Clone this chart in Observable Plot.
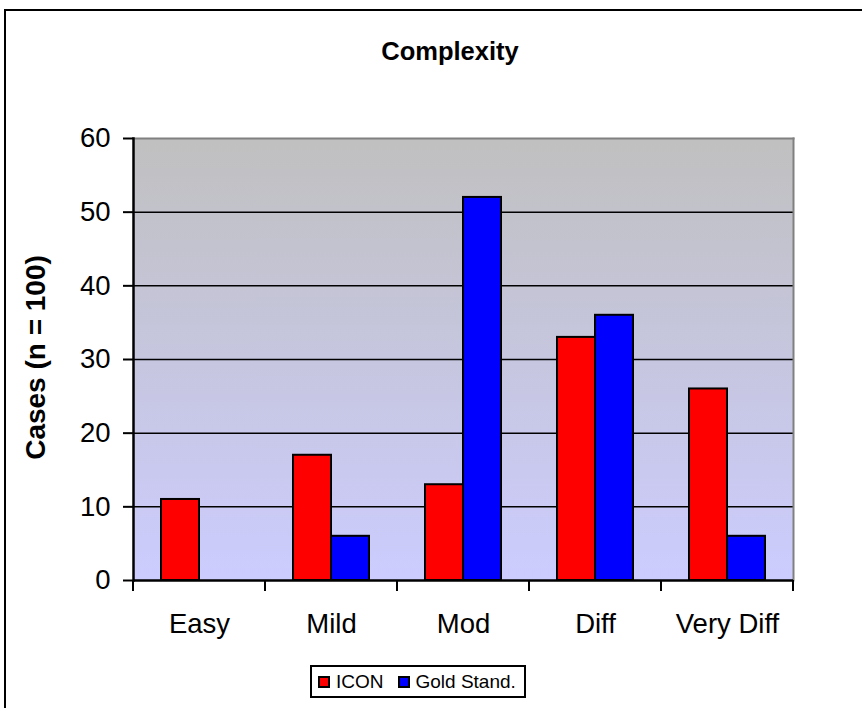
<!DOCTYPE html>
<html>
<head>
<meta charset="utf-8">
<script src="https://cdn.jsdelivr.net/npm/d3@7"></script>
<script src="https://cdn.jsdelivr.net/npm/@observablehq/plot@0.6"></script>
<style>
  html, body { margin: 0; padding: 0; background: #fff; }
  body { width: 862px; height: 708px; overflow: hidden; position: relative; font-family: "Liberation Sans", Arial, sans-serif; color: #000; }
  #border { position: absolute; left: 4px; top: 9px; width: 900px; height: 760px; border: 2px solid #000; box-sizing: border-box; pointer-events: none; }
  #title { box-sizing: border-box; width: 862px; height: 100px; padding-top: 36px; padding-left: 38px; text-align: center; font-size: 25.5px; line-height: 30px; font-weight: bold; }
  #chart svg { display: block; }
  #legend { position: absolute; left: 310px; top: 665px; height: 33px; box-sizing: border-box; border: 2px solid #000; display: flex; align-items: center; padding: 0 8px 0 6px; font-size: 19px; background: #fff; }
  .item { display: flex; align-items: center; margin-right: 14px; }
  .item:last-child { margin-right: 0; }
  .sw { width: 12px; height: 12px; box-sizing: border-box; border: 2px solid #000; margin-right: 6px; }
</style>
</head>
<body>
<div id="border"></div>
<div id="title"></div>
<div id="chart"></div>
<div id="legend"></div>
<script>
const titleText = "Complexity";
const yLabel = "Cases (n = 100)";
const categories = ["Easy", "Mild", "Mod", "Diff", "Very Diff"];
const seriesNames = ["ICON", "Gold Stand."];
const seriesColors = ["#FF0000", "#0000FF"];
const iconValues = [11, 17, 13, 33, 26];
const goldValues = [0, 6, 52, 36, 6];
const yTicks = [0, 10, 20, 30, 40, 50, 60];
const gridValues = [10, 20, 30, 40, 50];

const rows = [];
categories.forEach((c, i) => {
  rows.push({category: c, series: seriesNames[0], value: iconValues[i]});
  rows.push({category: c, series: seriesNames[1], value: goldValues[i]});
});

document.getElementById("title").textContent = titleText;

const font = "Liberation Sans, Arial, sans-serif";

const defsMark = () => {
  const defs = d3.create("svg:defs");
  const g = defs.append("linearGradient").attr("id", "bg").attr("x1", 0).attr("y1", 0).attr("x2", 0).attr("y2", 1);
  g.append("stop").attr("offset", "0%").attr("stop-color", "#C0C0C0");
  g.append("stop").attr("offset", "100%").attr("stop-color", "#CCCCFF");
  return defs.node();
};

const boundaryTicks = (index, scales) => {
  const {x, y} = scales;
  const dom = x.domain();
  const bw = x.bandwidth();
  const xs = dom.map(d => x(d)).concat([x(dom[dom.length - 1]) + bw]);
  const y0 = y(0);
  const g = d3.create("svg:g").attr("stroke", "#000").attr("stroke-width", 2);
  xs.forEach(v => g.append("line").attr("x1", v).attr("x2", v).attr("y1", y0).attr("y2", y0 + 11));
  return g.node();
};

const chart = Plot.plot({
  width: 862,
  height: 550,
  marginTop: 38,
  marginBottom: 70,
  marginLeft: 133,
  marginRight: 69,
  style: {fontFamily: font, color: "#000", background: "transparent", overflow: "visible"},
  x: {domain: categories, paddingInner: 0, paddingOuter: 0, axis: null},
  y: {domain: [0, 60], axis: null},
  marks: [
    defsMark,
    Plot.frame({fill: "url(#bg)", stroke: null}),
    Plot.ruleY(gridValues, {stroke: "#000", strokeWidth: 1.5}),
    Plot.frame({anchor: "top", stroke: "#808080", strokeWidth: 2}),
    Plot.frame({anchor: "right", stroke: "#808080", strokeWidth: 2}),
    Plot.barY(rows.filter(d => d.series === seriesNames[0]), {
      x: "category", y: "value", fill: seriesColors[0], stroke: "#000", strokeWidth: 2,
      insetLeft: 28, insetRight: 66
    }),
    Plot.barY(rows.filter(d => d.series === seriesNames[1]), {
      x: "category", y: "value", fill: seriesColors[1], stroke: "#000", strokeWidth: 2,
      insetLeft: 66, insetRight: 28
    }),
    Plot.ruleY([0], {stroke: "#000", strokeWidth: 2.5}),
    Plot.frame({anchor: "left", stroke: "#000", strokeWidth: 2.5}),
    boundaryTicks,
    Plot.axisY({ticks: yTicks, tickSize: 10, tickPadding: 13, fontSize: 27.5, stroke: "#000", strokeWidth: 2, label: null, tickFormat: d => String(d)}),
    Plot.axisX({tickSize: 0, tickPadding: 33, fontSize: 27.5, label: null}),
    Plot.text([yLabel], {frameAnchor: "left", dx: -97, dy: -2, rotate: -90, textAnchor: "middle", lineAnchor: "middle", fontSize: 28, fontWeight: "bold", fill: "#000"})
  ]
});
document.getElementById("chart").appendChild(chart);

const legend = document.getElementById("legend");
seriesNames.forEach((s, i) => {
  const item = document.createElement("div");
  item.className = "item";
  const sw = document.createElement("div");
  sw.className = "sw";
  sw.style.background = seriesColors[i];
  const t = document.createElement("span");
  t.textContent = s;
  item.appendChild(sw);
  item.appendChild(t);
  legend.appendChild(item);
});
</script>
</body>
</html>
